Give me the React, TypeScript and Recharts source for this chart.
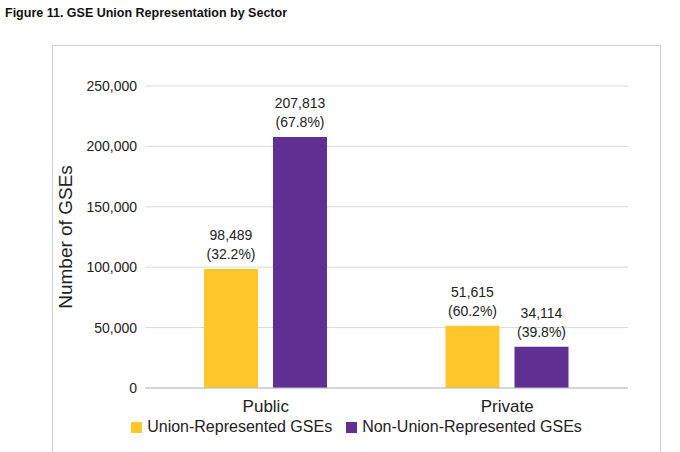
import { BarChart, Bar, XAxis, YAxis, CartesianGrid, Legend } from 'recharts';

const sectors = ['Public', 'Private'];
const unionCounts = [98489, 51615];
const unionPct = ['32.2%', '60.2%'];
const nonUnionCounts = [207813, 34114];
const nonUnionPct = ['67.8%', '39.8%'];
const yTicks = [0, 50000, 100000, 150000, 200000, 250000];
const legendItems = [
  { label: 'Union-Represented GSEs', color: '#FFC72C' },
  { label: 'Non-Union-Represented GSEs', color: '#5F2F91' },
];

const data = sectors.map((s, i) => ({
  name: s,
  union: unionCounts[i],
  unionPct: unionPct[i],
  nonUnion: nonUnionCounts[i],
  nonUnionPct: nonUnionPct[i],
}));

const FONT = 'Arial, "Liberation Sans", sans-serif';

const makeLabel = (pctKey: 'unionPct' | 'nonUnionPct') => (props: any) => {
  const { x, y, width, value, index } = props;
  const cx = x + width / 2;
  return (
    <text textAnchor="middle" fontSize={14} fill="#222" fontFamily={FONT}>
      <tspan x={cx} y={y - 29}>{Number(value).toLocaleString('en-US')}</tspan>
      <tspan x={cx} y={y - 10}>({data[index][pctKey]})</tspan>
    </text>
  );
};

const LegendContent = () => (
  <div style={{ display: 'flex', justifyContent: 'center', gap: 14, fontSize: 16, color: '#222' }}>
    {legendItems.map((it) => (
      <span key={it.label} style={{ display: 'flex', alignItems: 'center', gap: 5 }}>
        <span style={{ width: 11, height: 11, background: it.color, display: 'inline-block' }} />
        {it.label}
      </span>
    ))}
  </div>
);

export default function App() {
  return (
    <div style={{ position: 'absolute', left: 0, top: 0, width: 680, height: 452, background: '#fff', fontFamily: FONT }}>
      <div style={{ position: 'absolute', left: 5, top: 6, fontSize: 12.5, fontWeight: 'bold', color: '#111' }}>
        Figure 11. GSE Union Representation by Sector
      </div>
      <div style={{ position: 'absolute', left: 52, top: 45, width: 607, height: 407, borderLeft: '1px solid #d0d0d0', borderTop: '1px solid #d0d0d0', borderRight: '1px solid #d0d0d0' }}>
        <BarChart width={607} height={407} data={data} margin={{ top: 40, right: 32, left: 32, bottom: 9 }} barGap={15}>
          <CartesianGrid vertical={false} stroke="#d9d9d9" />
          <XAxis dataKey="name" axisLine={{ stroke: '#bfbfbf' }} tickLine={false} tick={{ fill: '#222', fontSize: 17, fontFamily: FONT }} tickMargin={6} height={30} />
          <YAxis ticks={yTicks} domain={[0, 250000]} axisLine={false} tickLine={false} width={60}
            tick={{ fill: '#222', fontSize: 14, fontFamily: FONT }}
            tickFormatter={(v) => Number(v).toLocaleString('en-US')}
            label={{ value: 'Number of  GSEs', angle: -90, position: 'insideLeft', offset: -20, style: { fill: '#222', fontSize: 19, fontFamily: FONT, textAnchor: 'middle' } }} />
          <Legend verticalAlign="bottom" height={26} content={<LegendContent />} />
          <Bar dataKey="union" name="Union-Represented GSEs" fill="#FFC72C" barSize={54} isAnimationActive={false} label={makeLabel('unionPct')} />
          <Bar dataKey="nonUnion" name="Non-Union-Represented GSEs" fill="#5F2F91" barSize={54} isAnimationActive={false} label={makeLabel('nonUnionPct')} />
        </BarChart>
      </div>
    </div>
  );
}
